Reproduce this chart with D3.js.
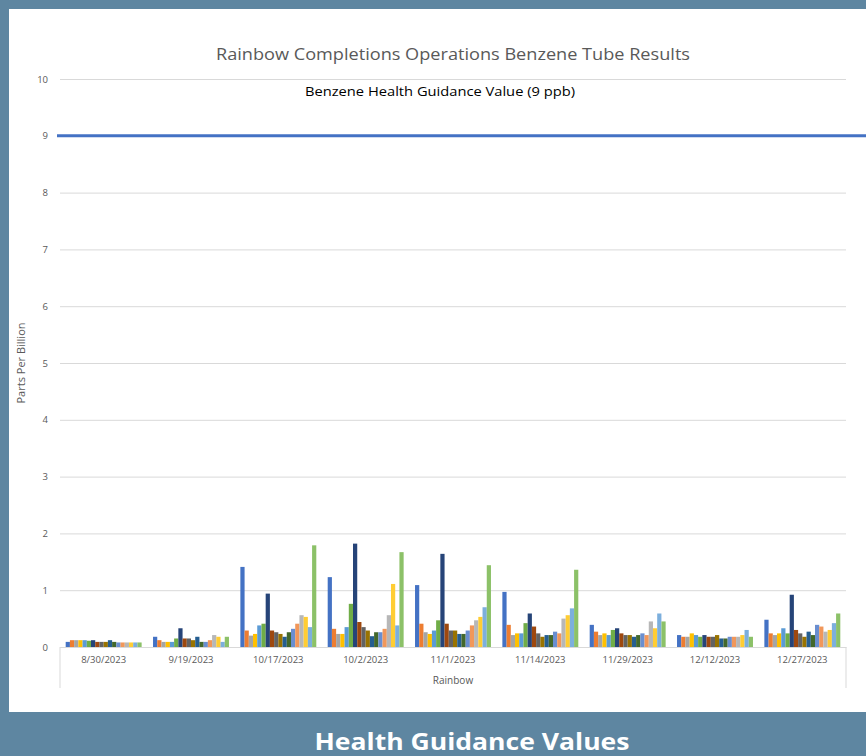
<!DOCTYPE html>
<html>
<head>
<meta charset="utf-8">
<script src="https://cdn.jsdelivr.net/npm/d3@7"></script>
<style>
  html, body { margin: 0; padding: 0; background: #5e86a1; }
  svg { display: block; }
</style>
</head>
<body>
<script>
// categories (sampling dates, in the order shown)
const dates = ['8/30/2023', '9/19/2023', '10/17/2023', '10/2/2023', '11/1/2023', '11/14/2023', '11/29/2023', '12/12/2023', '12/27/2023']

// 18 tube locations, one bar each per date
const tubes = d3.range(1, 19).map(i => 'Tube ' + i)

// benzene results (ppb), one array per date, tube 1..18
const r0830 = [0.09, 0.12, 0.12, 0.12, 0.12, 0.11, 0.12, 0.09, 0.09, 0.09, 0.12, 0.09, 0.08, 0.08, 0.08, 0.08, 0.08, 0.08]
const r0919 = [0.18, 0.12, 0.09, 0.09, 0.09, 0.15, 0.33, 0.15, 0.15, 0.12, 0.18, 0.09, 0.09, 0.12, 0.21, 0.18, 0.09, 0.18]
const r1017 = [1.41, 0.29, 0.20, 0.23, 0.38, 0.41, 0.94, 0.29, 0.26, 0.23, 0.18, 0.26, 0.32, 0.41, 0.56, 0.53, 0.35, 1.79]
const r1002 = [1.23, 0.32, 0.23, 0.23, 0.35, 0.76, 1.82, 0.44, 0.35, 0.29, 0.19, 0.26, 0.26, 0.32, 0.56, 1.11, 0.38, 1.67]
const r1101 = [1.09, 0.41, 0.26, 0.23, 0.29, 0.47, 1.64, 0.41, 0.29, 0.29, 0.23, 0.23, 0.29, 0.38, 0.47, 0.53, 0.70, 1.44]
const r1114 = [0.97, 0.39, 0.21, 0.24, 0.24, 0.42, 0.59, 0.36, 0.24, 0.18, 0.21, 0.21, 0.27, 0.24, 0.50, 0.56, 0.68, 1.36]
const r1129 = [0.39, 0.27, 0.21, 0.24, 0.21, 0.30, 0.33, 0.24, 0.21, 0.21, 0.18, 0.21, 0.24, 0.21, 0.45, 0.33, 0.59, 0.45]
const r1212 = [0.21, 0.18, 0.18, 0.24, 0.21, 0.18, 0.21, 0.18, 0.18, 0.21, 0.15, 0.15, 0.18, 0.18, 0.18, 0.21, 0.30, 0.18]
const r1227 = [0.48, 0.24, 0.21, 0.24, 0.33, 0.24, 0.92, 0.30, 0.24, 0.18, 0.27, 0.21, 0.39, 0.36, 0.27, 0.30, 0.42, 0.59]
const results = [r0830, r0919, r1017, r1002, r1101, r1114, r1129, r1212, r1227]

// y axis ticks and the guidance value
const yTicks = [0, 1, 2, 3, 4, 5, 6, 7, 8, 9, 10]
const guidance = 9

const tubeColors = ['#4472C4', '#ED7D31', '#A5A5A5', '#FFC000', '#5B9BD5', '#70AD47',
  '#264478', '#9E480E', '#636363', '#997300', '#255E91', '#43682B',
  '#698ED0', '#F1975A', '#B7B7B7', '#FFCD33', '#7CAFDD', '#8CC168']

const W = 866
const H = 756
const font = '"Open Sans", Lato, sans-serif'

const svg = d3.select('body').append('svg')
  .attr('width', W)
  .attr('height', H)

// white chart panel
svg.append('rect')
  .attr('x', 9).attr('y', 9)
  .attr('width', W - 9).attr('height', 703)
  .attr('fill', '#fff')

// SCALES
const y = d3.scaleLinear().domain([0, 10]).range([647, 79])
const x0 = d3.scaleBand().domain(dates).range([60, 846])
const x1 = d3.scaleBand().domain(tubes).range([0, x0.bandwidth()]).paddingOuter(1.35)
const color = d3.scaleOrdinal().domain(tubes).range(tubeColors)

// GRIDLINES + Y LABELS
const yAxis = d3.axisLeft(y).tickValues(yTicks).tickSize(-(846 - 60)).tickPadding(12)
const gy = svg.append('g')
  .attr('transform', 'translate(60,0)')
  .call(yAxis)
gy.select('.domain').remove()
gy.selectAll('.tick line').attr('stroke', '#d9d9d9').attr('stroke-width', 1)
gy.selectAll('.tick text')
  .attr('fill', '#595959')
  .style('font-family', font)
  .style('font-size', '9.5px')

// BARS
const groups = svg.append('g').selectAll('g')
  .data(dates)
  .enter()
  .append('g')
  .attr('transform', d => `translate(${x0(d)},0)`)

groups.selectAll('rect')
  .data((d, i) => results[i].map((v, j) => ({ tube: tubes[j], value: v })))
  .enter()
  .append('rect')
  .attr('x', d => x1(d.tube))
  .attr('width', x1.bandwidth())
  .attr('y', d => y(d.value))
  .attr('height', d => y(0) - y(d.value))
  .attr('fill', d => color(d.tube))

// X AXIS
const xAxis = d3.axisBottom(x0).tickSize(0).tickPadding(9)
const gx = svg.append('g')
  .attr('transform', `translate(0,${y(0)})`)
  .call(xAxis)
gx.select('.domain').attr('stroke', '#d9d9d9')
gx.selectAll('.tick text')
  .attr('fill', '#595959')
  .style('font-family', font)
  .style('font-size', '9.5px')

// outer category box lines
svg.append('g').selectAll('line')
  .data(x0.range())
  .enter()
  .append('line')
  .attr('x1', d => d).attr('x2', d => d)
  .attr('y1', y(0)).attr('y2', 688)
  .attr('stroke', '#d9d9d9')

svg.append('text')
  .attr('x', 453).attr('y', 684)
  .attr('text-anchor', 'middle')
  .attr('fill', '#595959')
  .style('font-family', font)
  .style('font-size', '10px')
  .text('Rainbow')

// guidance line
svg.append('line')
  .attr('x1', 57).attr('x2', W)
  .attr('y1', y(guidance)).attr('y2', y(guidance))
  .attr('stroke', '#4472C4')
  .attr('stroke-width', 3)

// TEXTS
svg.append('text')
  .attr('x', 453).attr('y', 60)
  .attr('text-anchor', 'middle')
  .attr('fill', '#595959')
  .attr('textLength', 474)
  .attr('lengthAdjust', 'spacingAndGlyphs')
  .style('font-family', font)
  .style('font-size', '16px')
  .text('Rainbow Completions Operations Benzene Tube Results')

svg.append('text')
  .attr('x', 440).attr('y', 96)
  .attr('text-anchor', 'middle')
  .attr('fill', '#000')
  .attr('textLength', 270)
  .attr('lengthAdjust', 'spacingAndGlyphs')
  .style('font-family', font)
  .style('font-size', '12px')
  .text('Benzene Health Guidance Value (9 ppb)')

svg.append('text')
  .attr('transform', 'translate(25,363) rotate(-90)')
  .attr('text-anchor', 'middle')
  .attr('fill', '#595959')
  .attr('textLength', 81)
  .attr('lengthAdjust', 'spacingAndGlyphs')
  .style('font-family', font)
  .style('font-size', '10px')
  .text('Parts Per Billion')

svg.append('text')
  .attr('x', 472).attr('y', 750)
  .attr('text-anchor', 'middle')
  .attr('fill', '#fff')
  .attr('textLength', 315)
  .attr('lengthAdjust', 'spacingAndGlyphs')
  .style('font-family', font)
  .style('font-weight', 'bold')
  .style('font-size', '23px')
  .text('Health Guidance Values')
</script>
</body>
</html>
